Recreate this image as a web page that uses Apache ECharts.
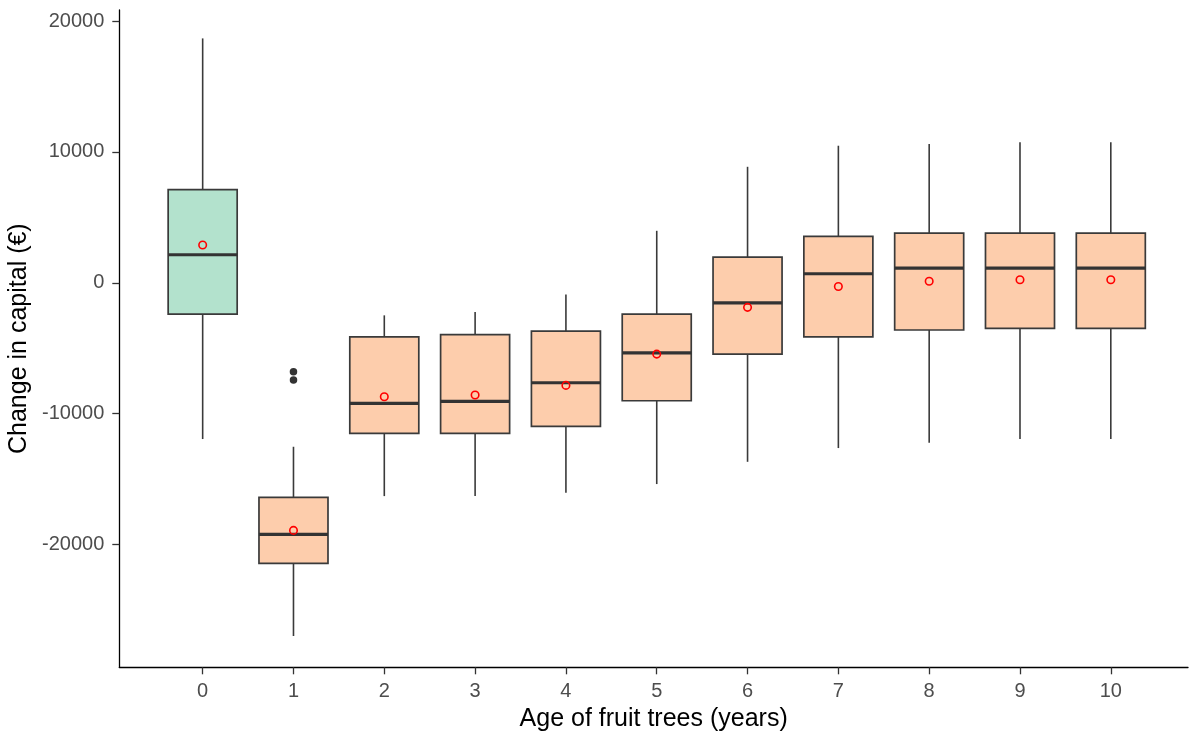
<!DOCTYPE html>
<html><head><meta charset="utf-8">
<script src="https://cdn.jsdelivr.net/npm/echarts@6/dist/echarts.min.js"></script>
<style>html,body{margin:0;padding:0;background:#fff}#c{width:1190px;height:733px}</style>
</head><body><div id="c"></div>
<script>
// Age of fruit trees (years)
const ages = [0, 1, 2, 3, 4, 5, 6, 7, 8, 9, 10];
// Box statistics (Change in capital, €)
const whiskerMin = [-11940, -26990, -16300, -16300, -16040, -15380, -13680, -12630, -12220, -11940, -11940];
const q1         = [-2390, -21440, -11510, -11510, -10970, -9015, -5450, -4130, -3610, -3480, -3480];
const median     = [2140, -19220, -9210, -9060, -7640, -5350, -1530, 690, 1120, 1120, 1120];
const q3         = [7120, -16400, -4130, -3970, -3690, -2390, 1960, 3550, 3800, 3800, 3800];
const whiskerMax = [18670, -12530, -2490, -2240, -890, 3970, 8860, 10470, 10600, 10730, 10730];
const means      = [2880, -18920, -8710, -8580, -7840, -5450, -1880, -280, 110, 230, 230];
const outlierAge = [1, 1];
const outlierVal = [-6800, -7430];
const yTicks = [-20000, -10000, 0, 10000, 20000];

const boxData = ages.map((a, i) => [a, whiskerMin[i], q1[i], median[i], q3[i], whiskerMax[i]]);
const meanData = ages.map((a, i) => [a, means[i]]);
const outData = outlierAge.map((a, i) => [a, outlierVal[i]]);

const FONT = "'Liberation Sans', Arial, sans-serif";
const chart = echarts.init(document.getElementById('c'), null, {renderer: 'canvas'});
chart.setOption({
  animation: false,
  backgroundColor: '#fff',
  grid: {left: 119.3, right: 2, top: 10, bottom: 65.7, containLabel: false, outerBoundsMode: 'none'},
  xAxis: {
    type: 'value', min: -0.918, max: 10.85,
    name: 'Age of fruit trees (years)', nameLocation: 'middle', nameGap: 36,
    nameTextStyle: {fontSize: 25, color: '#000', fontFamily: FONT},
    axisLine: {show: true, onZero: false, lineStyle: {color: '#000', width: 1.3}},
    axisTick: {show: true, length: 7, customValues: ages, lineStyle: {color: '#333', width: 1.3}},
    axisLabel: {customValues: ages, fontSize: 20, color: '#4D4D4D', margin: 14, fontFamily: FONT,
      formatter: v => String(Math.round(v))},
    splitLine: {show: false}
  },
  yAxis: {
    type: 'value', min: -29380, max: 20840,
    name: 'Change in capital (€)', nameLocation: 'middle', nameGap: 80,
    nameTextStyle: {fontSize: 25, color: '#000', fontFamily: FONT},
    axisLine: {show: true, onZero: false, lineStyle: {color: '#000', width: 1.3}},
    axisTick: {show: true, length: 7, customValues: yTicks, lineStyle: {color: '#333', width: 1.3}},
    axisLabel: {customValues: yTicks, fontSize: 20, color: '#4D4D4D', margin: 15, fontFamily: FONT,
      formatter: v => String(Math.round(v))},
    splitLine: {show: false}
  },
  series: [
    {
      type: 'custom',
      data: boxData,
      encode: {x: 0, y: [1, 2, 3, 4, 5]},
      renderItem: function (params, api) {
        const x = api.value(0);
        const pMin = api.coord([x, api.value(1)]);
        const pQ1 = api.coord([x, api.value(2)]);
        const pMed = api.coord([x, api.value(3)]);
        const pQ3 = api.coord([x, api.value(4)]);
        const pMax = api.coord([x, api.value(5)]);
        const w = api.size([0.76, 0])[0];
        const cx = pMed[0];
        const fill = params.dataIndex === 0 ? '#B3E2CD' : '#FDCDAC';
        const lineStyle = {stroke: '#3a3a3a', lineWidth: 1.6};
        return {type: 'group', children: [
          {type: 'line', shape: {x1: cx, y1: pMax[1], x2: cx, y2: pQ3[1]}, style: lineStyle},
          {type: 'line', shape: {x1: cx, y1: pQ1[1], x2: cx, y2: pMin[1]}, style: lineStyle},
          {type: 'rect', shape: {x: cx - w / 2, y: pQ3[1], width: w, height: pQ1[1] - pQ3[1]},
            style: {fill: fill, stroke: '#3a3a3a', lineWidth: 1.7}},
          {type: 'line', shape: {x1: cx - w / 2, y1: pMed[1], x2: cx + w / 2, y2: pMed[1]},
            style: {stroke: '#333', lineWidth: 3.2}}
        ]};
      },
      z: 2
    },
    {
      type: 'scatter', data: outData, symbol: 'circle', symbolSize: 7.5,
      itemStyle: {color: '#333', opacity: 1}, z: 3
    },
    {
      type: 'scatter', data: meanData, symbol: 'circle', symbolSize: 7.5,
      itemStyle: {color: 'rgba(0,0,0,0)', borderColor: '#FF0000', borderWidth: 1.6, opacity: 1}, z: 4
    }
  ]
});
</script>
</body></html>
